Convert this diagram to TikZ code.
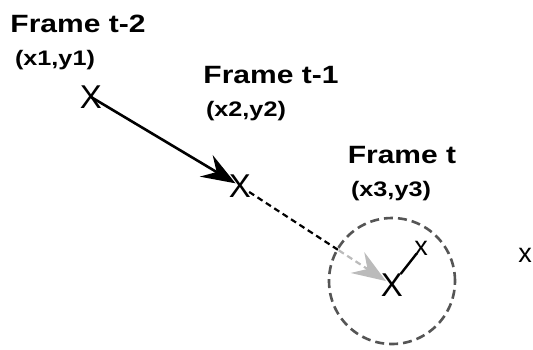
\documentclass[tikz,border=0pt]{standalone}
\usepackage{fontspec}
\setmainfont{Liberation Sans}
\usetikzlibrary{arrows.meta,calc}
\definecolor{circgray}{HTML}{555555}
\definecolor{lightarrow}{HTML}{BBBBBB}
\tikzset{
  title/.style={inner sep=0pt, font=\bfseries\fontsize{25}{30}\selectfont},
  coordtxt/.style={inner sep=0pt, font=\bfseries\fontsize{21}{25}\selectfont},
  bigx/.style={inner sep=0pt, font=\fontsize{33}{36}\selectfont},
  smallx/.style={inner sep=0pt, font=\fontsize{27}{30}\selectfont},
  motion/.style={line width=2.6pt, -{Stealth[length=34pt,width=25pt,inset=12pt]}},
  predicted/.style={line width=2.2pt, dash pattern=on 6pt off 4pt},
}
\newcommand{\wide}[1]{\scalebox{1.2}[1]{#1}}
\begin{document}
\begin{tikzpicture}[x=1pt,y=-1pt]
\useasboundingbox (0,0) rectangle (533,349);
% labels
\node[title] (t2) at (78,24) {\wide{Frame t-2}};
\node[coordtxt] (c1) at (55,60) {\wide{(x1,y1)}};
\node[title] (t1) at (271,75) {\wide{Frame t-1}};
\node[coordtxt] (c2) at (246,111) {\wide{(x2,y2)}};
\node[title] (t0) at (402,155) {\wide{Frame t}};
\node[coordtxt] (c3) at (391,191) {\wide{(x3,y3)}};
% search circle
\node[draw=circgray, line width=2.6pt, dash pattern=on 9pt off 5pt, circle, minimum size=126pt, inner sep=0pt] (circ) at (392,281) {};
% positions
\node[bigx] (x1) at (91,97) {X};
\node[bigx] (x2) at (240,186) {X};
\node[bigx] (x3) at (392,285) {X};
\node[smallx] (xs) at (421,248) {x};
\node[smallx] (xf) at (525,255) {x};
% motion
\draw[motion] (x1.center) -- ($(x1.center)!0.97!(x2.center)$) coordinate (tip1);
\coordinate (entry) at ($(x2.center)!0.65!(x3.center)$);
\draw[predicted, black] ($(x2.center)!0.06!(x3.center)$) -- (entry);
\draw[predicted, lightarrow, -{Stealth[length=34pt,width=25pt,inset=12pt,line width=0pt]}] (entry) -- ($(x2.center)!0.96!(x3.center)$);
\draw[line width=2.4pt] ($(x3.center)!0.3!(xs.center)$) -- ($(x3.center)!0.85!(xs.center)$);
\end{tikzpicture}
\end{document}
